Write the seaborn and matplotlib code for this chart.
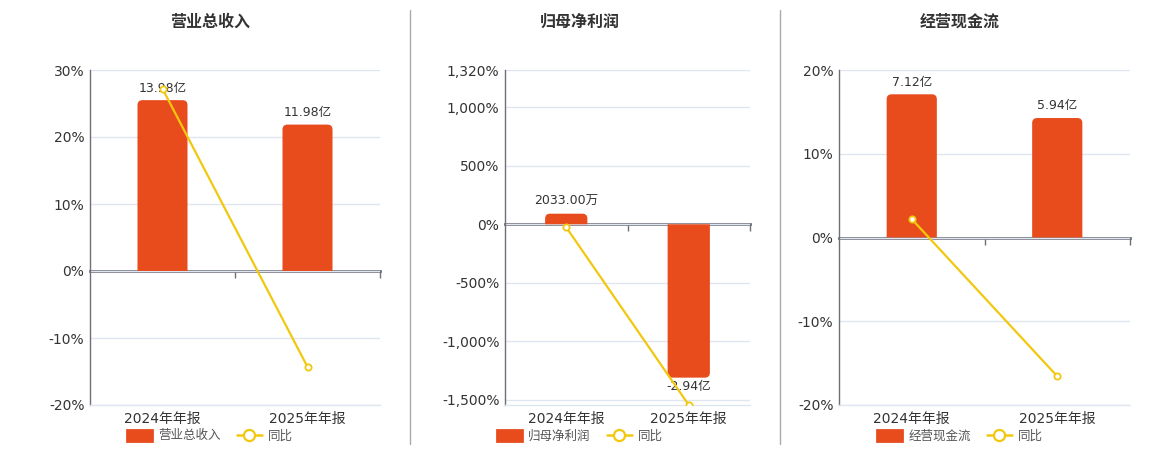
import matplotlib
matplotlib.use('Agg')
import matplotlib.pyplot as plt
import numpy as np
import pandas as pd
import seaborn as sns
from matplotlib.patches import PathPatch, Patch
from matplotlib.path import Path
from matplotlib.lines import Line2D

# ---------------- data ----------------
categories = ['2024年年报', '2025年年报']

revenue = [13.98, 11.98]            # 亿
revenue_labels = ['13.98亿', '11.98亿']
revenue_yoy = [27.2, -14.31]        # %

profit = [0.2033, -2.94]            # 亿
profit_labels = ['2033.00万', '-2.94亿']
profit_yoy = [-26.0, -1546.1]       # %

cashflow = [7.12, 5.94]             # 亿
cashflow_labels = ['7.12亿', '5.94亿']
cashflow_yoy = [2.2, -16.57]        # %

titles = ['营业总收入', '归母净利润', '经营现金流']
pct_ticks_1 = [-20, -10, 0, 10, 20, 30]
pct_ticks_2 = [-1500, -1000, -500, 0, 500, 1000, 1320]
pct_ticks_3 = [-20, -10, 0, 10, 20]
yoy_label = '同比'

# ---------------- style ----------------
BAR = '#E84C1D'
LINE = '#F2C80F'
GRID = '#E0E6F1'
AXIS = '#6E7079'
TXT = '#333333'

sns.set_theme(style='white')
plt.rcParams['font.family'] = ['DejaVu Sans', 'Noto Sans CJK SC']
plt.rcParams['axes.unicode_minus'] = False

W, H = 1160, 450
fig = plt.figure(figsize=(W / 100, H / 100), dpi=100)


def rounded_bar_path(x0, x1, base, end, rx, ry):
    """Path of a bar with rounded corners at its far end."""
    s = 1.0 if end >= base else -1.0
    ry = min(ry, abs(end - base))
    rx = min(rx, (x1 - x0) / 2)
    verts = [(x0, base), (x0, end - s * ry), (x0, end), (x0 + rx, end),
             (x1 - rx, end), (x1, end), (x1, end - s * ry), (x1, base), (x0, base)]
    codes = [Path.MOVETO, Path.LINETO, Path.CURVE3, Path.CURVE3,
             Path.LINETO, Path.CURVE3, Path.CURVE3, Path.LINETO, Path.CLOSEPOLY]
    return Path(verts, codes)


def draw_panel(pos, cx, title, values, labels, yoy, ticks, lim, k):
    rect = [pos[0] / W, pos[1] / H, pos[2] / W, pos[3] / H]
    ax = fig.add_axes(rect)
    axb = ax.twinx()
    axl = ax.twinx()

    # bars (amounts) on hidden twin axis
    df = pd.DataFrame({'cat': categories, 'val': values})
    sns.barplot(data=df, x='cat', y='val', color=BAR, width=0.345,
                saturation=1, ax=axb, errorbar=None)
    axb.set_ylim(lim[0] * k, lim[1] * k)
    axb.set_xlim(-0.5, len(categories) - 0.5)

    # rounded bar ends (geometry taken from seaborn's bars)
    xr = len(categories) / pos[2]          # x units per px
    yr = (lim[1] - lim[0]) * k / pos[3]    # y units per px
    r_px = 5
    for p, lab, v in zip(list(axb.patches), labels, values):
        x, w = p.get_x(), p.get_width()
        y, h = p.get_y(), p.get_height()
        p.set_visible(False)
        path = rounded_bar_path(x, x + w, y, y + h, r_px * xr, r_px * yr)
        axb.add_patch(PathPatch(path, fc=BAR, ec='none', zorder=2))
        if v >= 0:
            axb.annotate(lab, (x + w / 2, y + h), xytext=(0, 4),
                         textcoords='offset points', ha='center', va='bottom',
                         fontsize=9, color=TXT)
        else:
            axb.annotate(lab, (x + w / 2, y + h), xytext=(0, -2),
                         textcoords='offset points', ha='center', va='top',
                         fontsize=9, color=TXT)
    axb.axis('off')

    # yoy line
    sns.pointplot(x=categories, y=yoy, color=LINE, markers='o', errorbar=None,
                  ax=axl, markersize=4.5, linewidth=1.6, markeredgewidth=1.3,
                  markerfacecolor='white', markeredgecolor=LINE)
    for ln in axl.lines:
        ln.set_markerfacecolor('white')
        ln.set_markeredgecolor(LINE)
    axl.set_ylim(*lim)
    axl.set_xlim(-0.5, len(categories) - 0.5)
    axl.axis('off')

    # main percent axis
    ax.set_xlim(-0.5, len(categories) - 0.5)
    ax.set_ylim(*lim)
    ax.set_yticks(ticks)
    ax.set_yticklabels([f'{t:,}%' for t in ticks])
    ax.set_xticks(range(len(categories)))
    ax.set_xticklabels(categories)
    ax.set_xlabel('')
    ax.set_ylabel('')
    ax.grid(axis='y', color=GRID, lw=1)
    ax.grid(axis='x', visible=False)
    ax.set_axisbelow(True)
    ax.tick_params(length=0, labelsize=10, colors=TXT)
    ax.tick_params(axis='y', pad=4)
    ax.tick_params(axis='x', pad=5)
    for s in ['top', 'right']:
        ax.spines[s].set_visible(False)
    ax.spines['bottom'].set_color(GRID)
    ax.spines['bottom'].set_linewidth(1)
    ax.spines['left'].set_color(AXIS)
    ax.spines['left'].set_linewidth(1)

    # zero axis line with category boundary ticks
    frac = (0 - lim[0]) / (lim[1] - lim[0])
    sec = ax.secondary_xaxis(frac)
    sec.set_alignment('bottom')
    sec.set_xticks([0.5, 1.5], labels=['', ''])
    sec.tick_params(length=5, width=1, color=AXIS, direction='out')
    sec.spines['top'].set_visible(False)
    sec.spines['bottom'].set_visible(True)
    sec.spines['bottom'].set_color(AXIS)
    sec.spines['bottom'].set_linewidth(2)

    # title
    fig.text(cx / W, 1 - 22 / H, title, ha='center', va='center',
             fontsize=11.5, fontweight='bold', color=TXT)

    # legend
    handles = [
        Patch(fc=BAR, ec=BAR, lw=2, joinstyle='round', label=title),
        Line2D([], [], color=LINE, marker='o', mfc='white', mec=LINE,
               ms=8, mew=1.6, lw=1.8, label=yoy_label),
    ]
    fig.legend(handles=handles, loc='center', bbox_to_anchor=(cx / W, 1 - 436 / H),
               ncol=2, frameon=False, fontsize=9, handlelength=2.0,
               handleheight=1.0, columnspacing=1.3, handletextpad=0.5,
               labelcolor='#555555', borderaxespad=0, borderpad=0)
    return ax


draw_panel((90, 45, 290, 335), 210, titles[0], revenue, revenue_labels,
           revenue_yoy, pct_ticks_1, (-20, 30), 13.98 / 25.5)
draw_panel((505, 45, 245, 335), 580, titles[1], profit, profit_labels,
           profit_yoy, pct_ticks_2, (-1546.1, 1320), 2.94 / 1312)
draw_panel((839, 45, 291, 335), 960, titles[2], cashflow, cashflow_labels,
           cashflow_yoy, pct_ticks_3, (-20, 20), 7.12 / 17.1)

# panel separators
for xs in (410, 780):
    fig.add_artist(Line2D([xs / W, xs / W], [1 - 10 / H, 1 - 444 / H],
                          transform=fig.transFigure, color='#AAAAAA', lw=1))

fig.savefig('out.png', dpi=100, facecolor='white')
